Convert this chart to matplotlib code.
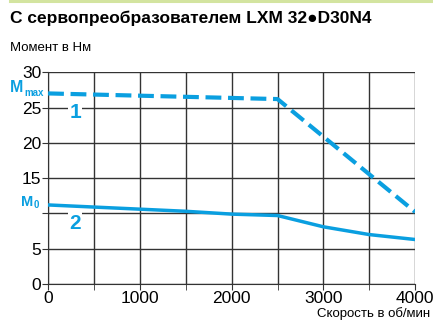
import matplotlib.pyplot as plt
from matplotlib import font_manager

# Data
speed_max = [0, 2500, 4000]
torque_max = [27.0, 26.2, 10.2]

speed_cont = [0, 500, 1000, 1500, 2000, 2500, 3000, 3500, 4000]
torque_cont = [11.2, 10.9, 10.6, 10.3, 9.9, 9.7, 8.1, 7.0, 6.3]

xticks = [0, 1000, 2000, 3000, 4000]
yticks = [0, 5, 10, 15, 20, 25, 30]
ylabels = ["0", "5", "", "15", "20", "25", "30"]

blue = "#0a9fe0"

names = {f.name for f in font_manager.fontManager.ttflist}
narrow = "Liberation Sans Narrow" if "Liberation Sans Narrow" in names else "Liberation Sans"
plt.rcParams["font.family"] = [narrow, "DejaVu Sans"]

fig = plt.figure(figsize=(4.33, 3.24), dpi=100)
ax = fig.add_axes([0.111, 0.1235, 0.848, 0.6535])

ax.plot(speed_max, torque_max, color=blue, lw=3, ls=(0, (3.8, 1.6)), zorder=3)
ax.plot(speed_cont, torque_cont, color=blue, lw=2.5, zorder=3)

ax.set_xlim(0, 4000)
ax.set_ylim(0, 30)
ax.set_xticks(xticks)
ax.set_xticks(range(0, 4001, 500), minor=True)
ax.set_yticks(yticks)
ax.set_yticklabels(ylabels)
ax.grid(True, which="both", color="#333333", lw=1)
for s in ["top", "right"]:
    ax.spines[s].set_visible(False)
ax.spines["left"].set_color("#333333")
ax.spines["bottom"].set_color("#333333")
ax.tick_params(which="both", direction="out", length=4, color="#333333")
ax.tick_params(which="major", labelsize=12.5, pad=1)
ax.tick_params(axis="x", which="minor", length=4)
for lab in ax.get_xticklabels() + ax.get_yticklabels():
    lab.set_family("Liberation Sans")

# curve labels
ax.text(294, 24.3, "1", color=blue, fontsize=15, fontweight="bold", ha="center", va="center",
        family="Liberation Sans", bbox=dict(facecolor="white", edgecolor="none", pad=1), zorder=4)
ax.text(294, 8.6, "2", color=blue, fontsize=15, fontweight="bold", ha="center", va="center",
        family="Liberation Sans", bbox=dict(facecolor="white", edgecolor="none", pad=1), zorder=4)

# M labels left of axis
fig.text(10 / 433, 1 - 88 / 324, "M", color=blue, fontsize=11.5, fontweight="bold", va="center",
         family="Liberation Sans")
fig.text(24.5 / 433, 1 - 93 / 324, "max", color=blue, fontsize=7, fontweight="bold", va="center",
         family=narrow)
fig.text(21 / 433, 1 - 202 / 324, "M", color=blue, fontsize=10.5, fontweight="bold", va="center",
         family="Liberation Sans")
fig.text(33.5 / 433, 1 - 205 / 324, "0", color=blue, fontsize=7, fontweight="bold", va="center",
         family=narrow)

# title and axis labels
fig.text(0.023, 1 - 18 / 324, "С сервопреобразователем LXM 32●D30N4", fontsize=12.5,
         fontweight="bold", va="center")
fig.text(0.023, 1 - 48 / 324, "Момент в Нм", fontsize=9.5, va="center")
fig.text(0.993, 1 - 314 / 324, "Скорость в об/мин", fontsize=9.5, va="center", ha="right")

# thin green rule at the top
fig.add_artist(plt.Line2D([10 / 433, 1], [1 - 1 / 324, 1 - 1 / 324], color="#d3e4a0", lw=2.2))

fig.savefig("out.png", dpi=100)
